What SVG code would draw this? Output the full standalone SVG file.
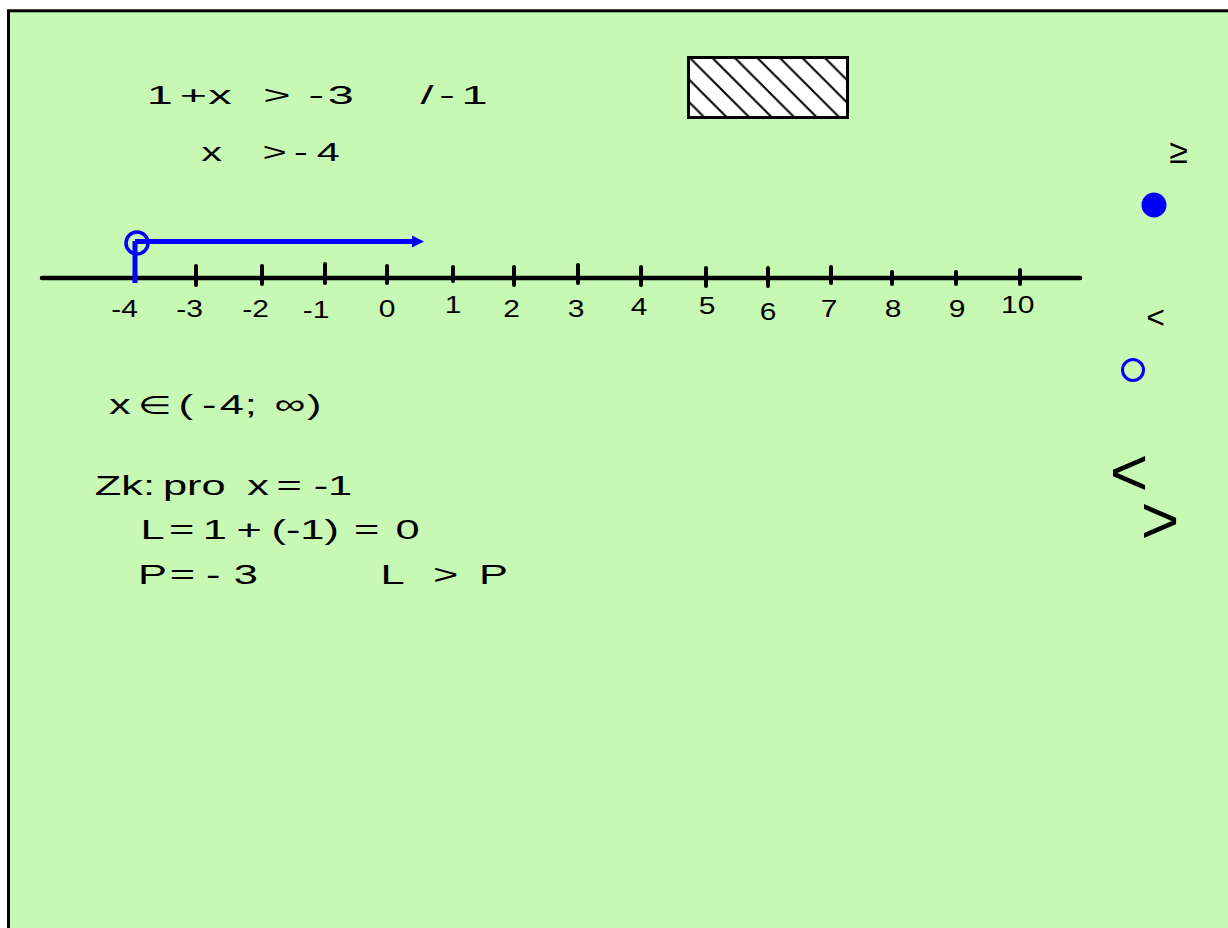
<svg xmlns="http://www.w3.org/2000/svg" width="1228" height="928" viewBox="0 0 1228 928">
<style>
text{font-family:"Liberation Sans",Arial,"DejaVu Sans",sans-serif;fill:#000}
.c{text-anchor:middle}
.ax{stroke:#000;stroke-width:4.5;stroke-linecap:round;fill:none}
.tk{stroke:#000;stroke-width:4;stroke-linecap:round}
.blue{stroke:#0000FF;fill:none}
</style>
<defs>
<pattern id="hatch" patternUnits="userSpaceOnUse" x="2" y="0" width="22.5" height="22.5">
<rect width="22.5" height="22.5" fill="#fff"/>
<path d="M0,0 L22.5,22.5 M-5,17.5 L5,27.5 M17.5,-5 L27.5,5" stroke="#000" stroke-width="2"/>
</pattern>
</defs>
<rect width="1228" height="928" fill="#fff"/>
<rect id="frame" x="8.5" y="10.8" width="1240" height="940" fill="#C7F9B5" stroke="#000" stroke-width="3"/>
<g id="equations">
<text class="c" font-size="26" transform="scale(1.8,1)"><tspan x="88.8" y="104.5">1</tspan><tspan x="107.4" y="104.5">+</tspan><tspan x="122.2" y="104.5">x</tspan><tspan x="153.9" y="104.5">&gt;</tspan><tspan x="175.7" y="104.5">-</tspan><tspan x="189.3" y="104.5">3</tspan><tspan x="237.2" y="104.5">/</tspan><tspan x="248.3" y="104.5">-</tspan><tspan x="263.6" y="104.5">1</tspan></text>
<text class="c" font-size="26" transform="scale(1.6,1)"><tspan x="132.3" y="161.5">x</tspan><tspan x="171.6" y="161.5">&gt;</tspan><tspan x="188.1" y="161.5">-</tspan><tspan x="205.2" y="161.5">4</tspan></text>
</g>
<rect id="hatched-box" x="688.5" y="57.5" width="159" height="60" fill="url(#hatch)" stroke="#000" stroke-width="3"/>
<g id="number-line">
<line class="ax" x1="42" y1="278" x2="1080" y2="278"/>
<g class="tk">
<line x1="196" y1="266" x2="196" y2="285"/>
<line x1="262" y1="266" x2="262" y2="284"/>
<line x1="325" y1="264" x2="325" y2="283"/>
<line x1="387" y1="266" x2="387" y2="283"/>
<line x1="453" y1="267" x2="453" y2="281"/>
<line x1="514" y1="267" x2="514" y2="285"/>
<line x1="578" y1="265" x2="578" y2="283"/>
<line x1="641" y1="267" x2="641" y2="285"/>
<line x1="706" y1="268" x2="706" y2="286"/>
<line x1="768" y1="268" x2="768" y2="286"/>
<line x1="831" y1="267" x2="831" y2="283"/>
<line x1="892" y1="272" x2="892" y2="284"/>
<line x1="956" y1="272" x2="956" y2="284"/>
<line x1="1020" y1="270" x2="1020" y2="284"/>
</g>
<text class="c" font-size="24" transform="scale(1.25,1)"><tspan x="99.6" y="317">-4</tspan><tspan x="151.6" y="317">-3</tspan><tspan x="204.4" y="317">-2</tspan><tspan x="252.8" y="318.3">-1</tspan><tspan x="309.6" y="316.7">0</tspan><tspan x="362.4" y="312.7">1</tspan><tspan x="409.2" y="317.3">2</tspan><tspan x="460.8" y="316.7">3</tspan><tspan x="511.2" y="315">4</tspan><tspan x="565.6" y="314.3">5</tspan><tspan x="614.4" y="320">6</tspan><tspan x="663.2" y="316.7">7</tspan><tspan x="714.4" y="316.7">8</tspan><tspan x="765.6" y="316.7">9</tspan><tspan x="814.2" y="313.3">10</tspan></text>
</g>
<g id="connectors">
<line class="blue" x1="135" y1="241" x2="135" y2="283" stroke-width="5"/>
<line class="blue" x1="135" y1="241.5" x2="414" y2="241.5" stroke-width="5"/>
<polygon points="412,235.5 424,241.5 412,247.5" fill="#0000FF"/>
<circle class="blue" cx="137" cy="243" r="11" stroke-width="3.5"/>
</g>
<g id="solution">
<text class="c" font-size="28" transform="scale(1.55,1)"><tspan x="77.4" y="414">x</tspan><tspan x="100" y="414" font-size="25">∈</tspan><tspan x="119.9" y="414">(</tspan><tspan x="135" y="414">-</tspan><tspan x="149.5" y="414">4</tspan><tspan x="161.8" y="414">;</tspan><tspan x="187.1" y="414">∞</tspan><tspan x="202.7" y="414">)</tspan></text>
</g>
<g id="check">
<text class="c" font-size="28" transform="scale(1.55,1)"><tspan x="80.6" y="495">Zk:</tspan><tspan x="125.4" y="495">pro</tspan><tspan x="166.6" y="495">x</tspan><tspan x="186.6" y="495">=</tspan><tspan x="214.8" y="495">-1</tspan></text>
<text class="c" font-size="28" transform="scale(1.55,1)"><tspan x="98.4" y="539">L</tspan><tspan x="117.2" y="539">=</tspan><tspan x="138.6" y="539">1</tspan><tspan x="160.8" y="539">+</tspan><tspan x="196.9" y="539">(-1)</tspan><tspan x="236.6" y="539">=</tspan><tspan x="262.9" y="539">0</tspan></text>
<text class="c" font-size="28" transform="scale(1.55,1)"><tspan x="98.4" y="584">P</tspan><tspan x="117.7" y="584">=</tspan><tspan x="137.6" y="584">-</tspan><tspan x="158.6" y="584">3</tspan><tspan x="253.2" y="584">L</tspan><tspan x="287.6" y="584">&gt;</tspan><tspan x="318.3" y="584">P</tspan></text>
</g>
<g id="legend">
<text class="c" x="1178.5" y="163" font-size="34">≥</text>
<circle cx="1154" cy="205" r="12.5" fill="#0000FF"/>
<text class="c" x="1155.5" y="327.5" font-size="32">&lt;</text>
<circle class="blue" cx="1133" cy="370" r="10.5" stroke-width="3"/>
<text class="c" x="1129" y="495" font-size="66">&lt;</text>
<text class="c" x="1160" y="543" font-size="66">&gt;</text>
</g>
</svg>
